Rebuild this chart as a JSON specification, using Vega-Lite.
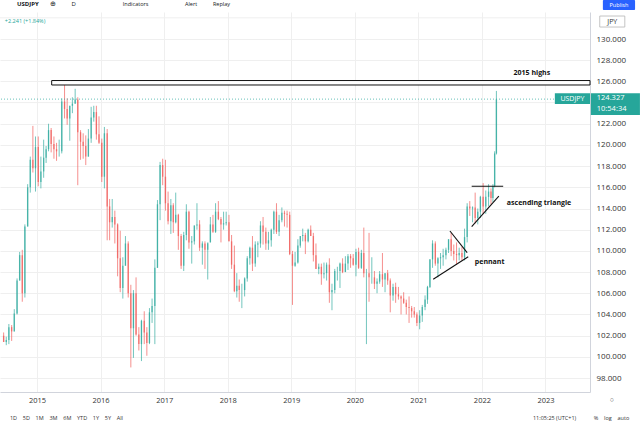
{
  "$schema": "https://vega.github.io/schema/vega-lite/v6.json",
  "description": "USDJPY daily chart with 2015 highs, pennant and ascending triangle",
  "width": 590,
  "height": 380,
  "autosize": {"type": "none"},
  "padding": {"left": 0, "top": 12, "right": 50, "bottom": 37},
  "background": "white",
  "datasets": {
    "px": [
      {"d":"2014-06-23","o":102.0,"h":102.3,"l":101.4,"c":101.4},
      {"d":"2014-07-08","o":101.4,"h":101.9,"l":101.1,"c":101.6},
      {"d":"2014-07-23","o":101.6,"h":103.1,"l":101.2,"c":102.8},
      {"d":"2014-08-08","o":102.8,"h":103.0,"l":101.5,"c":102.4},
      {"d":"2014-08-23","o":102.4,"h":104.5,"l":102.4,"c":104.1},
      {"d":"2014-09-08","o":104.1,"h":107.4,"l":104.0,"c":107.2},
      {"d":"2014-09-23","o":107.2,"h":109.9,"l":107.2,"c":109.6},
      {"d":"2014-10-08","o":109.6,"h":110.1,"l":105.2,"c":106.0},
      {"d":"2014-10-23","o":106.0,"h":112.5,"l":105.6,"c":112.3},
      {"d":"2014-11-08","o":112.3,"h":116.3,"l":112.3,"c":116.0},
      {"d":"2014-11-23","o":116.0,"h":118.9,"l":115.5,"c":118.6},
      {"d":"2014-12-08","o":118.6,"h":121.8,"l":117.4,"c":117.8},
      {"d":"2014-12-23","o":117.8,"h":120.8,"l":115.6,"c":119.8},
      {"d":"2015-01-08","o":119.8,"h":120.8,"l":116.1,"c":116.5},
      {"d":"2015-01-23","o":116.5,"h":118.9,"l":115.9,"c":117.5},
      {"d":"2015-02-08","o":117.5,"h":120.5,"l":116.9,"c":118.8},
      {"d":"2015-02-22","o":118.8,"h":119.9,"l":118.3,"c":119.6},
      {"d":"2015-03-08","o":119.6,"h":122.0,"l":119.4,"c":121.4},
      {"d":"2015-03-23","o":121.4,"h":121.6,"l":119.3,"c":120.1},
      {"d":"2015-04-08","o":120.1,"h":120.8,"l":118.7,"c":119.6},
      {"d":"2015-04-23","o":119.6,"h":120.2,"l":118.5,"c":119.4},
      {"d":"2015-05-08","o":119.4,"h":120.5,"l":118.9,"c":119.4},
      {"d":"2015-05-23","o":119.4,"h":124.4,"l":119.2,"c":124.1},
      {"d":"2015-06-08","o":124.1,"h":125.9,"l":122.5,"c":123.4},
      {"d":"2015-06-23","o":123.4,"h":124.4,"l":121.9,"c":122.5},
      {"d":"2015-07-08","o":122.5,"h":123.7,"l":120.4,"c":123.7},
      {"d":"2015-07-23","o":123.7,"h":124.5,"l":123.0,"c":123.9},
      {"d":"2015-08-08","o":123.9,"h":125.3,"l":123.9,"c":124.3},
      {"d":"2015-08-23","o":124.3,"h":124.5,"l":116.2,"c":121.2},
      {"d":"2015-09-08","o":121.2,"h":121.4,"l":118.6,"c":120.3},
      {"d":"2015-09-23","o":120.3,"h":121.1,"l":118.7,"c":119.9},
      {"d":"2015-10-08","o":119.9,"h":120.9,"l":118.1,"c":118.9},
      {"d":"2015-10-23","o":118.9,"h":121.5,"l":118.9,"c":120.6},
      {"d":"2015-11-08","o":120.6,"h":123.6,"l":120.2,"c":122.6},
      {"d":"2015-11-23","o":122.6,"h":123.7,"l":122.2,"c":123.1},
      {"d":"2015-12-08","o":123.1,"h":123.7,"l":120.5,"c":121.0},
      {"d":"2015-12-23","o":121.0,"h":122.7,"l":120.1,"c":120.2},
      {"d":"2016-01-08","o":120.2,"h":120.6,"l":116.5,"c":117.0},
      {"d":"2016-01-23","o":117.0,"h":121.7,"l":115.9,"c":121.1},
      {"d":"2016-02-08","o":121.1,"h":121.5,"l":111.0,"c":114.2},
      {"d":"2016-02-22","o":114.2,"h":114.9,"l":111.0,"c":112.7},
      {"d":"2016-03-08","o":112.7,"h":114.9,"l":112.2,"c":113.2},
      {"d":"2016-03-23","o":113.2,"h":113.8,"l":110.7,"c":112.5},
      {"d":"2016-04-08","o":112.5,"h":112.6,"l":107.6,"c":109.3},
      {"d":"2016-04-23","o":109.3,"h":111.9,"l":106.1,"c":106.5},
      {"d":"2016-05-08","o":106.5,"h":109.4,"l":105.5,"c":108.6},
      {"d":"2016-05-23","o":108.6,"h":111.4,"l":108.6,"c":110.7},
      {"d":"2016-06-08","o":110.7,"h":110.9,"l":105.6,"c":106.0},
      {"d":"2016-06-23","o":106.0,"h":106.8,"l":99.0,"c":102.7},
      {"d":"2016-07-08","o":102.7,"h":106.3,"l":99.9,"c":106.0},
      {"d":"2016-07-23","o":106.0,"h":107.5,"l":102.0,"c":102.1},
      {"d":"2016-08-08","o":102.1,"h":102.8,"l":100.6,"c":101.2},
      {"d":"2016-08-23","o":101.2,"h":103.5,"l":99.6,"c":103.4},
      {"d":"2016-09-08","o":103.4,"h":104.3,"l":101.2,"c":102.3},
      {"d":"2016-09-23","o":102.3,"h":102.8,"l":100.1,"c":101.3},
      {"d":"2016-10-08","o":101.3,"h":104.6,"l":101.2,"c":104.2},
      {"d":"2016-10-23","o":104.2,"h":105.5,"l":103.2,"c":104.8},
      {"d":"2016-11-08","o":104.8,"h":109.2,"l":101.2,"c":108.4},
      {"d":"2016-11-23","o":108.4,"h":114.8,"l":108.4,"c":114.4},
      {"d":"2016-12-08","o":114.4,"h":118.4,"l":112.9,"c":118.1},
      {"d":"2016-12-23","o":118.1,"h":118.7,"l":116.2,"c":117.0},
      {"d":"2017-01-08","o":117.0,"h":118.6,"l":113.8,"c":114.5},
      {"d":"2017-01-23","o":114.5,"h":115.6,"l":112.5,"c":112.8},
      {"d":"2017-02-08","o":112.8,"h":114.9,"l":111.6,"c":114.3},
      {"d":"2017-02-22","o":114.3,"h":114.5,"l":111.7,"c":112.7},
      {"d":"2017-03-08","o":112.7,"h":115.5,"l":112.6,"c":113.4},
      {"d":"2017-03-23","o":113.4,"h":113.5,"l":110.1,"c":111.4},
      {"d":"2017-04-08","o":111.4,"h":111.6,"l":108.3,"c":108.6},
      {"d":"2017-04-23","o":108.6,"h":111.8,"l":108.1,"c":111.5},
      {"d":"2017-05-08","o":111.5,"h":114.4,"l":111.0,"c":113.7},
      {"d":"2017-05-23","o":113.7,"h":113.8,"l":110.2,"c":110.8},
      {"d":"2017-06-08","o":110.8,"h":111.4,"l":108.8,"c":110.9},
      {"d":"2017-06-23","o":110.9,"h":112.4,"l":110.6,"c":112.4},
      {"d":"2017-07-08","o":112.4,"h":114.5,"l":112.0,"c":112.5},
      {"d":"2017-07-23","o":112.5,"h":112.9,"l":110.0,"c":110.3},
      {"d":"2017-08-08","o":110.3,"h":110.9,"l":108.7,"c":110.7},
      {"d":"2017-08-23","o":110.7,"h":110.9,"l":108.3,"c":110.1},
      {"d":"2017-09-08","o":110.1,"h":110.7,"l":107.3,"c":110.8},
      {"d":"2017-09-23","o":110.8,"h":113.2,"l":110.8,"c":112.5},
      {"d":"2017-10-08","o":112.5,"h":113.4,"l":111.7,"c":111.8},
      {"d":"2017-10-23","o":111.8,"h":114.5,"l":111.7,"c":113.7},
      {"d":"2017-11-08","o":113.7,"h":114.7,"l":112.9,"c":113.0},
      {"d":"2017-11-23","o":113.0,"h":113.2,"l":110.8,"c":112.5},
      {"d":"2017-12-08","o":112.5,"h":113.7,"l":112.0,"c":112.6},
      {"d":"2017-12-23","o":112.6,"h":113.7,"l":112.4,"c":112.7},
      {"d":"2018-01-08","o":112.7,"h":113.4,"l":110.9,"c":110.9},
      {"d":"2018-01-23","o":110.9,"h":111.5,"l":108.3,"c":108.7},
      {"d":"2018-02-08","o":108.7,"h":110.5,"l":106.1,"c":106.2},
      {"d":"2018-02-22","o":106.2,"h":107.9,"l":105.6,"c":106.7},
      {"d":"2018-03-08","o":106.7,"h":107.3,"l":105.2,"c":106.3},
      {"d":"2018-03-23","o":106.3,"h":106.9,"l":104.6,"c":106.3},
      {"d":"2018-04-08","o":106.3,"h":107.5,"l":105.7,"c":107.4},
      {"d":"2018-04-23","o":107.4,"h":109.5,"l":107.1,"c":109.3},
      {"d":"2018-05-08","o":109.3,"h":110.4,"l":108.7,"c":110.3},
      {"d":"2018-05-23","o":110.3,"h":111.4,"l":108.1,"c":108.8},
      {"d":"2018-06-08","o":108.8,"h":110.9,"l":108.5,"c":110.6},
      {"d":"2018-06-23","o":110.6,"h":110.9,"l":109.4,"c":110.7},
      {"d":"2018-07-08","o":110.7,"h":112.8,"l":110.3,"c":112.4},
      {"d":"2018-07-23","o":112.4,"h":113.2,"l":110.6,"c":111.8},
      {"d":"2018-08-08","o":111.8,"h":112.2,"l":110.1,"c":110.7},
      {"d":"2018-08-23","o":110.7,"h":111.8,"l":110.1,"c":111.0},
      {"d":"2018-09-08","o":111.0,"h":112.1,"l":110.4,"c":112.0},
      {"d":"2018-09-23","o":112.0,"h":113.8,"l":111.6,"c":113.7},
      {"d":"2018-10-08","o":113.7,"h":114.5,"l":111.6,"c":111.8},
      {"d":"2018-10-23","o":111.8,"h":113.4,"l":111.4,"c":112.9},
      {"d":"2018-11-08","o":112.9,"h":114.1,"l":112.7,"c":113.6},
      {"d":"2018-11-23","o":113.6,"h":113.8,"l":112.3,"c":113.5},
      {"d":"2018-12-08","o":113.5,"h":113.8,"l":112.2,"c":113.4},
      {"d":"2018-12-23","o":113.4,"h":113.7,"l":109.6,"c":109.7},
      {"d":"2019-01-08","o":109.7,"h":110.0,"l":104.9,"c":108.6},
      {"d":"2019-01-23","o":108.6,"h":109.9,"l":108.5,"c":108.9},
      {"d":"2019-02-08","o":108.9,"h":111.1,"l":108.8,"c":110.5},
      {"d":"2019-02-22","o":110.5,"h":111.4,"l":110.3,"c":111.4},
      {"d":"2019-03-08","o":111.4,"h":112.1,"l":110.9,"c":111.5},
      {"d":"2019-03-23","o":111.5,"h":111.7,"l":109.7,"c":110.9},
      {"d":"2019-04-08","o":110.9,"h":112.1,"l":110.8,"c":112.0},
      {"d":"2019-04-23","o":112.0,"h":112.4,"l":111.4,"c":111.4},
      {"d":"2019-05-08","o":111.4,"h":111.7,"l":109.0,"c":109.6},
      {"d":"2019-05-23","o":109.6,"h":110.7,"l":108.3,"c":108.3},
      {"d":"2019-06-08","o":108.3,"h":108.8,"l":107.8,"c":108.5},
      {"d":"2019-06-23","o":108.5,"h":108.8,"l":106.8,"c":107.8},
      {"d":"2019-07-08","o":107.8,"h":108.9,"l":107.4,"c":107.9},
      {"d":"2019-07-23","o":107.9,"h":108.9,"l":107.2,"c":108.7},
      {"d":"2019-08-08","o":108.7,"h":109.3,"l":105.1,"c":106.1},
      {"d":"2019-08-23","o":106.1,"h":106.9,"l":104.4,"c":106.3},
      {"d":"2019-09-08","o":106.3,"h":108.3,"l":106.0,"c":108.1},
      {"d":"2019-09-23","o":108.1,"h":108.5,"l":107.2,"c":108.1},
      {"d":"2019-10-08","o":108.1,"h":108.9,"l":106.5,"c":108.8},
      {"d":"2019-10-23","o":108.8,"h":109.3,"l":107.9,"c":108.0},
      {"d":"2019-11-08","o":108.0,"h":109.5,"l":108.0,"c":108.8},
      {"d":"2019-11-23","o":108.8,"h":109.7,"l":108.2,"c":109.5},
      {"d":"2019-12-08","o":109.5,"h":109.7,"l":108.4,"c":109.3},
      {"d":"2019-12-23","o":109.3,"h":109.7,"l":108.6,"c":108.7},
      {"d":"2020-01-08","o":108.7,"h":110.2,"l":107.6,"c":109.9},
      {"d":"2020-01-23","o":109.9,"h":110.3,"l":108.3,"c":108.4},
      {"d":"2020-02-08","o":108.4,"h":110.1,"l":108.3,"c":109.8},
      {"d":"2020-02-22","o":109.8,"h":112.2,"l":107.5,"c":107.9},
      {"d":"2020-03-08","o":107.9,"h":108.3,"l":101.2,"c":107.9},
      {"d":"2020-03-23","o":107.9,"h":111.7,"l":105.2,"c":107.5},
      {"d":"2020-04-08","o":107.5,"h":109.4,"l":106.9,"c":107.5},
      {"d":"2020-04-23","o":107.5,"h":108.1,"l":106.4,"c":106.9},
      {"d":"2020-05-08","o":106.9,"h":107.4,"l":106.0,"c":107.1},
      {"d":"2020-05-23","o":107.1,"h":108.1,"l":106.9,"c":107.8},
      {"d":"2020-06-08","o":107.8,"h":109.8,"l":106.6,"c":107.3},
      {"d":"2020-06-23","o":107.3,"h":107.9,"l":106.1,"c":107.9},
      {"d":"2020-07-08","o":107.9,"h":108.2,"l":106.8,"c":107.2},
      {"d":"2020-07-23","o":107.2,"h":107.4,"l":104.2,"c":105.8},
      {"d":"2020-08-08","o":105.8,"h":106.9,"l":105.3,"c":106.6},
      {"d":"2020-08-23","o":106.6,"h":107.0,"l":105.1,"c":105.9},
      {"d":"2020-09-08","o":105.9,"h":106.6,"l":105.4,"c":105.7},
      {"d":"2020-09-23","o":105.7,"h":105.8,"l":104.0,"c":105.5},
      {"d":"2020-10-08","o":105.5,"h":106.1,"l":105.0,"c":105.1},
      {"d":"2020-10-23","o":105.1,"h":105.4,"l":104.0,"c":104.7},
      {"d":"2020-11-08","o":104.7,"h":105.7,"l":103.2,"c":104.6},
      {"d":"2020-11-23","o":104.6,"h":104.8,"l":103.7,"c":104.3},
      {"d":"2020-12-08","o":104.3,"h":104.7,"l":103.7,"c":104.0},
      {"d":"2020-12-23","o":104.0,"h":104.2,"l":102.9,"c":103.2},
      {"d":"2021-01-08","o":103.2,"h":104.4,"l":102.6,"c":103.9},
      {"d":"2021-01-23","o":103.9,"h":104.9,"l":103.3,"c":104.7},
      {"d":"2021-02-08","o":104.7,"h":105.8,"l":104.4,"c":105.4},
      {"d":"2021-02-22","o":105.4,"h":106.7,"l":105.0,"c":106.6},
      {"d":"2021-03-08","o":106.6,"h":109.2,"l":106.5,"c":109.2},
      {"d":"2021-03-23","o":109.2,"h":111.0,"l":108.4,"c":110.7},
      {"d":"2021-04-08","o":110.7,"h":110.9,"l":108.6,"c":108.8},
      {"d":"2021-04-23","o":108.8,"h":109.4,"l":107.5,"c":109.3},
      {"d":"2021-05-08","o":109.3,"h":109.8,"l":108.3,"c":109.4},
      {"d":"2021-05-23","o":109.4,"h":110.2,"l":108.6,"c":109.6},
      {"d":"2021-06-08","o":109.6,"h":110.3,"l":109.2,"c":110.1},
      {"d":"2021-06-23","o":110.1,"h":111.1,"l":109.8,"c":111.1},
      {"d":"2021-07-08","o":111.1,"h":111.7,"l":109.5,"c":110.0},
      {"d":"2021-07-23","o":110.0,"h":110.6,"l":109.1,"c":109.7},
      {"d":"2021-08-08","o":109.7,"h":110.8,"l":108.7,"c":109.6},
      {"d":"2021-08-23","o":109.6,"h":110.3,"l":109.1,"c":109.8},
      {"d":"2021-09-08","o":109.8,"h":110.4,"l":109.1,"c":109.4},
      {"d":"2021-09-23","o":109.4,"h":112.1,"l":109.1,"c":111.3},
      {"d":"2021-10-08","o":111.3,"h":114.5,"l":110.8,"c":114.2},
      {"d":"2021-10-23","o":114.2,"h":114.7,"l":113.3,"c":114.0},
      {"d":"2021-11-08","o":114.0,"h":114.2,"l":112.7,"c":114.1},
      {"d":"2021-11-23","o":114.1,"h":115.5,"l":112.6,"c":113.1},
      {"d":"2021-12-08","o":113.1,"h":114.0,"l":112.5,"c":113.7},
      {"d":"2021-12-23","o":113.7,"h":115.2,"l":113.1,"c":115.1},
      {"d":"2022-01-08","o":115.1,"h":116.4,"l":113.5,"c":114.2},
      {"d":"2022-01-23","o":114.2,"h":115.7,"l":113.5,"c":115.1},
      {"d":"2022-02-08","o":115.1,"h":116.3,"l":114.2,"c":115.6},
      {"d":"2022-02-22","o":115.6,"h":115.9,"l":114.4,"c":115.0},
      {"d":"2022-03-05","o":115.0,"h":116.3,"l":114.6,"c":116.1},
      {"d":"2022-03-15","o":116.1,"h":119.4,"l":116.0,"c":119.2},
      {"d":"2022-03-25","o":119.2,"h":125.1,"l":119.1,"c":124.3}
    ]
  },
  "config": {
    "view": {"stroke": null},
    "font": "Open Sans",
    "axis": {
      "ticks": false,
      "grid": true,
      "gridColor": "#efefef",
      "gridWidth": 1,
      "domainColor": "#d1d4dc",
      "labelColor": "#333333",
      "labelFont": "Open Sans",
      "labelOverlap": false
    }
  },
  "layer": [
    {
      "data": {"values": [{}]},
      "mark": {"type": "rule", "color": "#efefef", "strokeWidth": 1},
      "encoding": {"y": {"datum": 124}}
    },
    {
      "data": {"values": [{}]},
      "mark": {"type": "rule", "color": "#efefef", "strokeWidth": 1},
      "encoding": {"y": {"datum": 132}}
    },
    {
      "data": {"name": "px"},
      "mark": {"type": "rule", "strokeWidth": 1, "opacity": 0.65},
      "encoding": {
        "x": {
          "field": "d",
          "type": "temporal",
          "scale": {"domain": [{"year": 2014, "month": 6, "date": 2}, {"year": 2023, "month": 9, "date": 14}], "padding": 0},
          "axis": {"title": null, "orient": "bottom", "format": "%Y", "tickCount": {"interval": "year", "step": 1}, "labelFontSize": 7.5, "labelPadding": 4, "labelFlush": false, "labelOverlap": false}
        },
        "y": {
          "field": "l",
          "type": "quantitative",
          "scale": {"domain": [96.68, 132.55], "nice": false, "zero": false, "padding": 0},
          "axis": {"title": null, "orient": "right", "values": [98, 100, 102, 104, 106, 108, 110, 112, 114, 116, 118, 120, 122, 126, 128, 130], "tickCount": 20, "format": ".3f", "labelFontSize": 8, "labelPadding": 6, "labelOverlap": false}
        },
        "y2": {"field": "h"},
        "color": {"condition": {"test": "datum.c >= datum.o", "value": "#26a69a"}, "value": "#ef5350"}
      }
    },
    {
      "data": {"values": [{}]},
      "mark": {"type": "rule", "color": "#26a69a", "strokeDash": [1, 2], "strokeWidth": 1, "opacity": 0.7},
      "encoding": {"y": {"datum": 124.327}}
    },
    {
      "data": {"name": "px"},
      "mark": {"type": "bar", "size": 1.4, "opacity": 0.65},
      "encoding": {
        "x": {"field": "d", "type": "temporal"},
        "y": {"field": "o", "type": "quantitative"},
        "y2": {"field": "c"},
        "color": {"condition": {"test": "datum.c >= datum.o", "value": "#26a69a"}, "value": "#ef5350"}
      }
    },
    {
      "data": {"values": [{}]},
      "mark": {"type": "rect", "fill": "white", "stroke": "#111111", "strokeWidth": 1},
      "encoding": {
        "x": {"datum": {"year": 2015, "month": 3, "date": 26}, "type": "temporal"},
        "x2": {"datum": {"year": 2023, "month": 9, "date": 14}},
        "y": {"datum": 125.66},
        "y2": {"datum": 126.08}
      }
    },
    {
      "data": {"values": [{}]},
      "mark": {"type": "text", "text": "2015 highs", "fontSize": 7, "fontWeight": "bold", "color": "#111111", "align": "center", "baseline": "middle"},
      "encoding": {
        "x": {"datum": {"year": 2022, "month": 10, "date": 15}, "type": "temporal"},
        "y": {"datum": 126.79}
      }
    },
    {
      "data": {"values": [{}]},
      "mark": {"type": "rule", "color": "#111111", "strokeWidth": 1.1},
      "encoding": {
        "x": {"datum": {"year": 2021, "month": 3, "date": 27}, "type": "temporal"},
        "x2": {"datum": {"year": 2021, "month": 10, "date": 14}},
        "y": {"datum": 107.32},
        "y2": {"datum": 109.45}
      }
    },
    {
      "data": {"values": [{}]},
      "mark": {"type": "rule", "color": "#111111", "strokeWidth": 1.1},
      "encoding": {
        "x": {"datum": {"year": 2021, "month": 7, "date": 1}, "type": "temporal"},
        "x2": {"datum": {"year": 2021, "month": 10, "date": 8}},
        "y": {"datum": 111.88},
        "y2": {"datum": 109.83}
      }
    },
    {
      "data": {"values": [{}]},
      "mark": {"type": "rule", "color": "#111111", "strokeWidth": 1.1},
      "encoding": {
        "x": {"datum": {"year": 2021, "month": 11, "date": 3}, "type": "temporal"},
        "x2": {"datum": {"year": 2022, "month": 5, "date": 3}},
        "y": {"datum": 116.1},
        "y2": {"datum": 116.1}
      }
    },
    {
      "data": {"values": [{}]},
      "mark": {"type": "rule", "color": "#111111", "strokeWidth": 1.1},
      "encoding": {
        "x": {"datum": {"year": 2021, "month": 11, "date": 3}, "type": "temporal"},
        "x2": {"datum": {"year": 2022, "month": 4, "date": 8}},
        "y": {"datum": 112.28},
        "y2": {"datum": 115.18}
      }
    },
    {
      "data": {"values": [{}]},
      "mark": {"type": "text", "text": "pennant", "fontSize": 7, "fontWeight": "bold", "color": "#111111", "align": "left", "baseline": "middle"},
      "encoding": {
        "x": {"datum": {"year": 2021, "month": 11, "date": 21}, "type": "temporal"},
        "y": {"datum": 108.98}
      }
    },
    {
      "data": {"values": [{}]},
      "mark": {"type": "text", "text": "ascending triangle", "fontSize": 7, "fontWeight": "bold", "color": "#111111", "align": "left", "baseline": "middle"},
      "encoding": {
        "x": {"datum": {"year": 2022, "month": 5, "date": 24}, "type": "temporal"},
        "y": {"datum": 114.52}
      }
    },
    {
      "data": {"values": [{}]},
      "mark": {"type": "rect", "fill": "#26a69a"},
      "encoding": {
        "x": {"datum": {"year": 2023, "month": 2, "date": 24}, "type": "temporal"},
        "x2": {"datum": {"year": 2023, "month": 9, "date": 14}},
        "y": {"datum": 123.86},
        "y2": {"datum": 124.87}
      }
    },
    {
      "data": {"values": [{}]},
      "mark": {"type": "text", "text": "USDJPY", "fontSize": 7, "color": "white", "align": "center", "baseline": "middle"},
      "encoding": {
        "x": {"datum": {"year": 2023, "month": 6, "date": 5}, "type": "temporal"},
        "y": {"datum": 124.37}
      }
    },
    {
      "data": {"values": [{}]},
      "mark": {"type": "rect", "fill": "#26a69a"},
      "encoding": {
        "x": {"datum": {"year": 2023, "month": 9, "date": 19}, "type": "temporal"},
        "x2": {"datum": {"year": 2024, "month": 6, "date": 27}},
        "y": {"datum": 122.83},
        "y2": {"datum": 124.87}
      }
    },
    {
      "data": {"values": [{}]},
      "mark": {"type": "text", "text": "124.327", "fontSize": 7.5, "color": "white", "align": "left", "baseline": "middle"},
      "encoding": {
        "x": {"datum": {"year": 2023, "month": 10, "date": 23}, "type": "temporal"},
        "y": {"datum": 124.42}
      }
    },
    {
      "data": {"values": [{}]},
      "mark": {"type": "text", "text": "10:54:34", "fontSize": 7.5, "color": "white", "align": "left", "baseline": "middle"},
      "encoding": {
        "x": {"datum": {"year": 2023, "month": 10, "date": 23}, "type": "temporal"},
        "y": {"datum": 123.4}
      }
    },
    {
      "data": {"values": [{}]},
      "mark": {"type": "text", "text": "+2.241 (+1.84%)", "fontSize": 5.5, "color": "#26a69a", "align": "left", "baseline": "middle"},
      "encoding": {
        "x": {"datum": {"year": 2014, "month": 6, "date": 30}, "type": "temporal"},
        "y": {"datum": 131.7}
      }
    },
    {
      "data": {"values": [{}]},
      "mark": {"type": "rect", "fill": "white", "stroke": "#b5b5b5", "strokeWidth": 0.8},
      "encoding": {
        "x": {"datum": {"year": 2023, "month": 11, "date": 9}, "type": "temporal"},
        "x2": {"datum": {"year": 2024, "month": 4, "date": 1}},
        "y": {"datum": 131.13},
        "y2": {"datum": 132.17}
      }
    },
    {
      "data": {"values": [{}]},
      "mark": {"type": "text", "text": "JPY", "fontSize": 7, "color": "#333333", "align": "center", "baseline": "middle"},
      "encoding": {
        "x": {"datum": {"year": 2024, "month": 1, "date": 20}, "type": "temporal"},
        "y": {"datum": 131.65}
      }
    },
    {
      "data": {"values": [{}]},
      "mark": {"type": "rect", "fill": "#2962ff", "cornerRadius": 1},
      "encoding": {
        "x": {"datum": {"year": 2023, "month": 11, "date": 27}, "type": "temporal"},
        "x2": {"datum": {"year": 2024, "month": 5, "date": 30}},
        "y": {"datum": 132.74},
        "y2": {"datum": 133.68}
      }
    },
    {
      "data": {"values": [{}]},
      "mark": {"type": "text", "text": "Publish", "fontSize": 5.5, "color": "white", "align": "center", "baseline": "middle"},
      "encoding": {
        "x": {"datum": {"year": 2024, "month": 2, "date": 27}, "type": "temporal"},
        "y": {"datum": 133.21}
      }
    },
    {
      "data": {"values": [{}]},
      "mark": {"type": "text", "text": "USDJPY", "fontSize": 6, "fontWeight": "bold", "color": "#131722", "align": "left", "baseline": "middle"},
      "encoding": {
        "x": {"datum": {"year": 2014, "month": 9, "date": 7}, "type": "temporal"},
        "y": {"datum": 133.26}
      }
    },
    {
      "data": {"values": [{}]},
      "mark": {"type": "text", "text": "⊕", "fontSize": 7, "color": "#131722", "align": "center", "baseline": "middle"},
      "encoding": {
        "x": {"datum": {"year": 2015, "month": 4, "date": 2}, "type": "temporal"},
        "y": {"datum": 133.26}
      }
    },
    {
      "data": {"values": [{}]},
      "mark": {"type": "text", "text": "D", "fontSize": 6, "color": "#131722", "align": "center", "baseline": "middle"},
      "encoding": {
        "x": {"datum": {"year": 2015, "month": 7, "date": 31}, "type": "temporal"},
        "y": {"datum": 133.26}
      }
    },
    {
      "data": {"values": [{}]},
      "mark": {"type": "text", "text": "Indicators", "fontSize": 5.5, "color": "#131722", "align": "left", "baseline": "middle"},
      "encoding": {
        "x": {"datum": {"year": 2016, "month": 5, "date": 8}, "type": "temporal"},
        "y": {"datum": 133.26}
      }
    },
    {
      "data": {"values": [{}]},
      "mark": {"type": "text", "text": "Alert", "fontSize": 5.5, "color": "#131722", "align": "left", "baseline": "middle"},
      "encoding": {
        "x": {"datum": {"year": 2017, "month": 4, "date": 30}, "type": "temporal"},
        "y": {"datum": 133.26}
      }
    },
    {
      "data": {"values": [{}]},
      "mark": {"type": "text", "text": "Replay", "fontSize": 5.5, "color": "#131722", "align": "left", "baseline": "middle"},
      "encoding": {
        "x": {"datum": {"year": 2017, "month": 10, "date": 8}, "type": "temporal"},
        "y": {"datum": 133.26}
      }
    },
    {
      "data": {"values": [{}]},
      "mark": {"type": "text", "text": "1D\u00a0\u00a0\u00a0\u00a05D\u00a0\u00a0\u00a0\u00a01M\u00a0\u00a0\u00a0\u00a03M\u00a0\u00a0\u00a0\u00a06M\u00a0\u00a0\u00a0\u00a0YTD\u00a0\u00a0\u00a0\u00a01Y\u00a0\u00a0\u00a0\u00a05Y\u00a0\u00a0\u00a0\u00a0All", "fontSize": 5.5, "color": "#333333", "align": "left", "baseline": "middle"},
      "encoding": {
        "x": {"datum": {"year": 2014, "month": 7, "date": 29}, "type": "temporal"},
        "y": {"datum": 94.22}
      }
    },
    {
      "data": {"values": [{}]},
      "mark": {"type": "text", "text": "11:05:25 (UTC+1)", "fontSize": 5.5, "color": "#333333", "align": "left", "baseline": "middle"},
      "encoding": {
        "x": {"datum": {"year": 2022, "month": 10, "date": 21}, "type": "temporal"},
        "y": {"datum": 94.22}
      }
    },
    {
      "data": {"values": [{}]},
      "mark": {"type": "text", "text": "%\u00a0\u00a0\u00a0\u00a0log\u00a0\u00a0\u00a0\u00a0auto", "fontSize": 5.5, "color": "#333333", "align": "left", "baseline": "middle"},
      "encoding": {
        "x": {"datum": {"year": 2023, "month": 10, "date": 6}, "type": "temporal"},
        "y": {"datum": 94.22}
      }
    },
    {
      "data": {"values": [{}]},
      "mark": {"type": "text", "text": "○", "fontSize": 7, "color": "#555555", "align": "center", "baseline": "middle"},
      "encoding": {
        "x": {"datum": {"year": 2024, "month": 1, "date": 17}, "type": "temporal"},
        "y": {"datum": 95.92}
      }
    }
  ]
}
